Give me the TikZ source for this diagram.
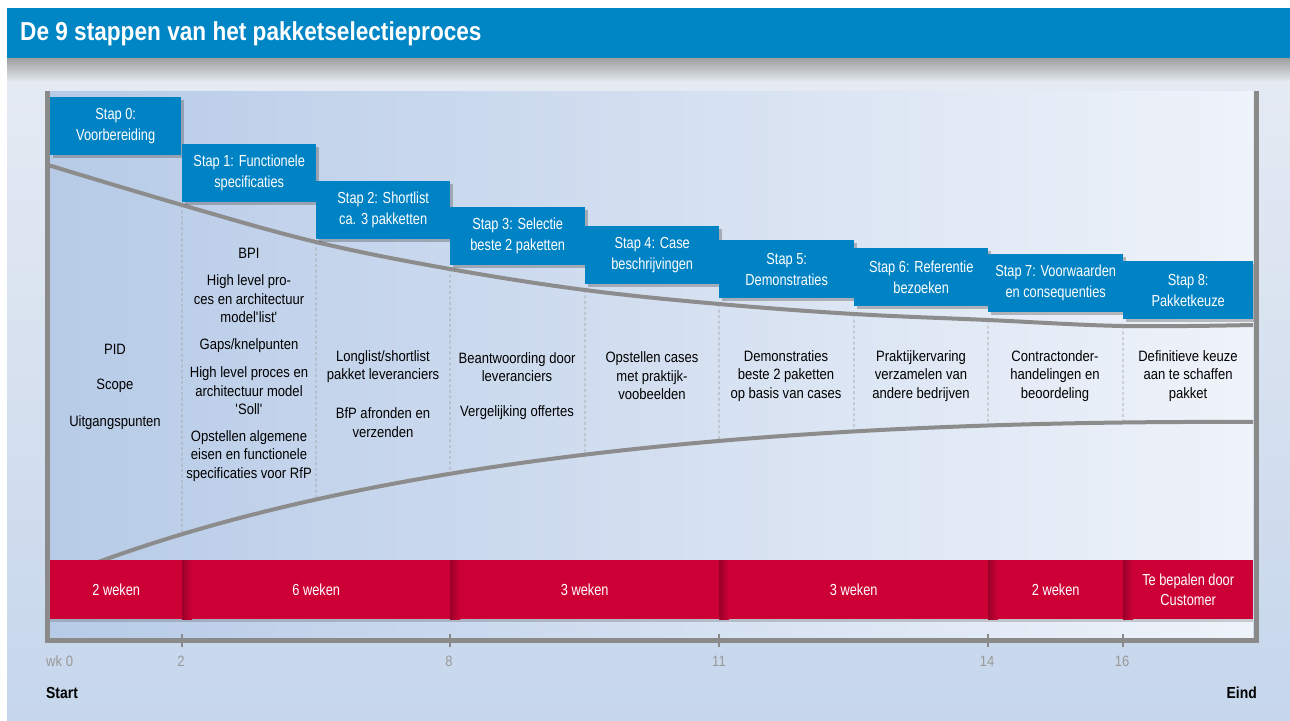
\documentclass[tikz,border=0pt]{standalone}
\usepackage{fontspec}
\setmainfont{Liberation Sans}[FakeStretch=0.87]
\newfontfamily\boxfont{Liberation Sans}[FakeStretch=0.8]
\usetikzlibrary{shadows,intersections}
\definecolor{stapblue}{HTML}{0083C4}
\definecolor{titleblue}{HTML}{0086C5}
\definecolor{redbar}{HTML}{CD0036}
\definecolor{darkred}{HTML}{9A0029}
\definecolor{framegray}{HTML}{8A8A8A}
\definecolor{panelL}{HTML}{B7CBE7}
\definecolor{panelR}{HTML}{EFF3FA}
\definecolor{bgtop}{HTML}{E6EBF3}
\definecolor{bgbot}{HTML}{C6D6EC}
\definecolor{ticklabel}{HTML}{999999}
\definecolor{curvegray}{HTML}{8C8C8C}
\begin{document}
\begin{tikzpicture}[x=1pt,y=-1pt,
  stapbox/.style={fill=stapblue, text=white, align=center,
    font=\boxfont\fontsize{16}{21}\selectfont, inner sep=0pt, anchor=north west,
    minimum height=58pt,
    drop shadow={shadow xshift=3pt, shadow yshift=-3pt, opacity=0.35, fill=black!70}},
  redseg/.style={fill=redbar, text=white, align=center,
    font=\boxfont\fontsize{16}{20}\selectfont, inner sep=0pt, anchor=north west,
    minimum height=59pt,
    drop shadow={shadow xshift=0pt, shadow yshift=-3pt, opacity=0.25, fill=black!70}},
  coltext/.style={align=center, font=\fontsize{15}{18.5}\selectfont, text=black, inner sep=0pt},
  curve/.style={draw=curvegray, line width=4pt},
  divider/.style={draw=gray!80, line width=0.8pt, dash pattern=on 3pt off 2.5pt},
  frame/.style={draw=framegray, line width=5pt},
  tick/.style={draw=framegray, line width=1.5pt},
  ticklab/.style={text=ticklabel, font=\fontsize{15}{17}\selectfont, inner sep=0pt},
  endlab/.style={text=black, font=\bfseries\fontsize{16}{18}\selectfont, inner sep=0pt}
]
\useasboundingbox (0,0) rectangle (1290,720);
% background
\fill[white] (0,0) rectangle (1290,720);
\shade[top color=bgtop, bottom color=bgbot] (7,58) rectangle (1290,720);
\shade[top color=black!38, bottom color=bgtop] (7,58) rectangle (1290,82);
\fill[titleblue] (7,8) rectangle (1290,58);
\node[anchor=west, text=white, font=\bfseries\fontsize{26}{28}\selectfont, inner sep=0pt] (title) at (20,34) {De 9 stappen van het pakketselectieproces};
% panel
\shade[left color=panelL, right color=panelR] (50,91) rectangle (1253,638);
% curves
\draw[curve, name path=upper] plot[smooth, tension=0.6] coordinates {(48,165) (182,205) (316,242) (450,269) (585,290) (719,304) (854,314) (988,320) (1123,326) (1253,325)};
\draw[curve, name path=lower] (85,567) .. controls (380,455) and (800,420) .. (1253,422);
% dividers between the curves
\foreach \x [count=\i] in {182,316,450,585,719,854,988,1123} {
  \path[name path=vert\i] (\x,100) -- (\x,600);
  \path[name intersections={of=upper and vert\i, by={u\i}}];
  \path[name intersections={of=lower and vert\i, by={l\i}}];
  \draw[divider] (u\i) -- (l\i);
}
% step boxes
\node[stapbox, minimum width=131pt] (s0) at (50,97) {Stap 0:\\Voorbereiding};
\node[stapbox, minimum width=134pt] (s1) at (182,144) {Stap 1: Functionele\\specificaties};
\node[stapbox, minimum width=134pt] (s2) at (316,181) {Stap 2: Shortlist\\ca. 3 pakketten};
\node[stapbox, minimum width=135pt] (s3) at (450,207) {Stap 3: Selectie\\beste 2 paketten};
\node[stapbox, minimum width=134pt] (s4) at (585,226) {Stap 4: Case\\beschrijvingen};
\node[stapbox, minimum width=135pt] (s5) at (719,240) {Stap 5:\\Demonstraties};
\node[stapbox, minimum width=134pt] (s6) at (854,248) {Stap 6: Referentie\\bezoeken};
\node[stapbox, minimum width=135pt] (s7) at (988,254) {Stap 7: Voorwaarden\\en consequenties};
\node[stapbox, minimum width=130pt] (s8) at (1123,261) {Stap 8:\\Pakketkeuze};
% column texts
\node[coltext] (c0a) at (115,349) {PID};
\node[coltext] (c0b) at (115,386) {Scope};
\node[coltext] (c0c) at (115,423) {Uitgangspunten};
\node[coltext] (c1a) at (249,253) {BPI};
\node[coltext] (c1b) at (249,299) {High level pro-\\ces en architectuur\\model\textquotesingle list\textquotesingle};
\node[coltext] (c1c) at (249,346) {Gaps/knelpunten};
\node[coltext] (c1d) at (249,391) {High level proces en\\architectuur model\\\textquotesingle Soll\textquotesingle};
\node[coltext] (c1e) at (249,456) {Opstellen algemene\\eisen en functionele\\specificaties voor RfP};
\node[coltext] (c2a) at (383,366.5) {Longlist/shortlist\\pakket leveranciers};
\node[coltext] (c2b) at (383,422.5) {BfP afronden en\\verzenden};
\node[coltext] (c3a) at (517,367) {Beantwoording door\\leveranciers};
\node[coltext] (c3b) at (517,413) {Vergelijking offertes};
\node[coltext] (c4) at (652,376) {Opstellen cases\\met praktijk-\\voobeelden};
\node[coltext] (c5) at (786,376) {Demonstraties\\beste 2 paketten\\op basis van cases};
\node[coltext] (c6) at (921,376) {Praktijkervaring\\verzamelen van\\andere bedrijven};
\node[coltext] (c7) at (1055,376) {Contractonder-\\handelingen en\\beoordeling};
\node[coltext] (c8) at (1188,376) {Definitieve keuze\\aan te schaffen\\pakket};
% red duration bar
\node[redseg, minimum width=132pt] (r0) at (50,560) {2 weken};
\node[redseg, minimum width=268pt] (r1) at (182,560) {6 weken};
\node[redseg, minimum width=269pt] (r2) at (450,560) {3 weken};
\node[redseg, minimum width=269pt] (r3) at (719,560) {3 weken};
\node[redseg, minimum width=135pt] (r4) at (988,560) {2 weken};
\node[redseg, minimum width=130pt] (r5) at (1123,560) {Te bepalen door\\Customer};
\foreach \r in {r1,r2,r3,r4,r5}
  \shade[left color=darkred, right color=redbar] (\r.north west) rectangle ([xshift=10pt]\r.south west);
% frame
\draw[frame] (47,91) -- (47,640) -- (1256,640) -- (1256,91);
% ticks and labels
\foreach \x in {182,450,719,988,1123}
  \draw[tick] (\x,634) -- (\x,647);
\node[ticklab, anchor=west] (w0) at (46,661) {wk 0};
\node[ticklab] (w2) at (181,661) {2};
\node[ticklab] (w8) at (449,661) {8};
\node[ticklab] (w11) at (719,661) {11};
\node[ticklab] (w14) at (987,661) {14};
\node[ticklab] (w16) at (1122,661) {16};
\node[endlab, anchor=west] (start) at (46,693) {Start};
\node[endlab, anchor=east] (eind) at (1257,693) {Eind};
\end{tikzpicture}
\end{document}
